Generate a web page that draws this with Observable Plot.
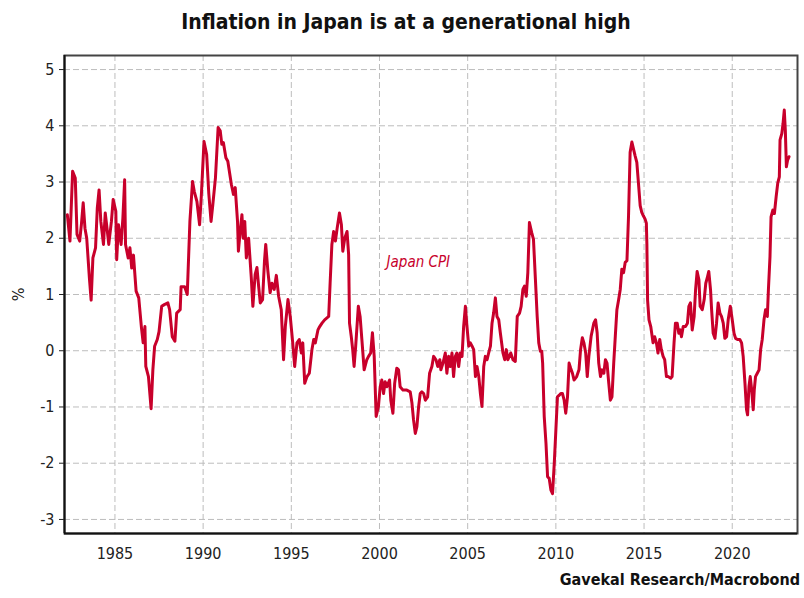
<!DOCTYPE html>
<html><head><meta charset="utf-8">
<script src="https://cdn.jsdelivr.net/npm/d3@7"></script>
<script src="https://cdn.jsdelivr.net/npm/@observablehq/plot@0.6"></script>
<style>
body{margin:0;background:#fff;font-family:"Liberation Sans Narrow","DejaVu Sans Condensed","Roboto",sans-serif;}
#wrap{width:804px;height:598px;position:relative;overflow:hidden;}
#title{height:40px;line-height:44px;text-align:center;font-weight:bold;font-size:21px;color:#111;padding-left:8px;}
#caption{position:absolute;right:4px;top:570px;font-weight:bold;font-size:16px;color:#111;}
</style></head>
<body><div id="wrap"><div id="title">Inflation in Japan is at a generational high</div><div id="chart"></div><div id="caption">Gavekal Research/Macrobond</div></div>
<script>
const years = [1982.30,1982.45,1982.60,1982.75,1982.85,1983.00,1983.10,1983.20,1983.30,1983.40,1983.55,1983.65,1983.75,1983.90,1984.00,1984.10,1984.20,1984.35,1984.45,1984.55,1984.65,1984.80,1984.90,1985.05,1985.10,1985.20,1985.35,1985.45,1985.55,1985.60,1985.75,1985.85,1985.95,1986.05,1986.20,1986.35,1986.50,1986.60,1986.70,1986.75,1986.90,1987.05,1987.15,1987.25,1987.40,1987.50,1987.65,1987.80,1988.00,1988.10,1988.25,1988.40,1988.50,1988.70,1988.75,1988.95,1989.10,1989.25,1989.40,1989.50,1989.65,1989.80,1989.90,1990.05,1990.20,1990.32,1990.45,1990.55,1990.70,1990.85,1990.97,1991.06,1991.15,1991.29,1991.40,1991.60,1991.72,1991.82,1991.95,1992.00,1992.10,1992.20,1992.27,1992.36,1992.45,1992.58,1992.73,1992.82,1992.95,1993.05,1993.15,1993.24,1993.37,1993.48,1993.55,1993.67,1993.80,1993.90,1994.03,1994.15,1994.28,1994.43,1994.56,1994.66,1994.81,1994.94,1995.08,1995.19,1995.32,1995.45,1995.57,1995.65,1995.76,1995.89,1996.02,1996.17,1996.27,1996.36,1996.51,1996.61,1996.74,1996.89,1997.12,1997.20,1997.30,1997.40,1997.50,1997.60,1997.73,1997.84,1997.92,1998.03,1998.16,1998.25,1998.30,1998.40,1998.48,1998.56,1998.65,1998.80,1998.90,1999.00,1999.13,1999.28,1999.38,1999.50,1999.60,1999.70,1999.81,1999.94,2000.04,2000.13,2000.23,2000.32,2000.42,2000.57,2000.64,2000.76,2000.86,2000.98,2001.08,2001.17,2001.33,2001.55,2001.74,2001.84,2001.93,2002.03,2002.12,2002.22,2002.31,2002.40,2002.50,2002.60,2002.73,2002.84,2002.97,2003.07,2003.20,2003.30,2003.42,2003.48,2003.60,2003.73,2003.82,2003.92,2004.01,2004.11,2004.20,2004.30,2004.39,2004.49,2004.58,2004.68,2004.77,2004.87,2004.96,2005.06,2005.15,2005.25,2005.34,2005.44,2005.53,2005.63,2005.72,2005.81,2005.91,2006.00,2006.10,2006.19,2006.29,2006.38,2006.47,2006.57,2006.66,2006.76,2006.85,2007.00,2007.10,2007.19,2007.28,2007.44,2007.57,2007.70,2007.81,2007.94,2008.03,2008.13,2008.22,2008.32,2008.41,2008.50,2008.63,2008.73,2008.84,2008.94,2009.03,2009.12,2009.20,2009.25,2009.34,2009.44,2009.53,2009.62,2009.72,2009.81,2009.91,2010.00,2010.09,2010.19,2010.28,2010.37,2010.47,2010.56,2010.66,2010.75,2010.84,2010.94,2011.03,2011.18,2011.31,2011.40,2011.50,2011.59,2011.69,2011.78,2011.87,2012.00,2012.15,2012.25,2012.34,2012.43,2012.53,2012.62,2012.72,2012.81,2012.90,2013.00,2013.09,2013.18,2013.28,2013.37,2013.46,2013.56,2013.65,2013.74,2013.84,2013.93,2014.03,2014.12,2014.21,2014.31,2014.40,2014.49,2014.59,2014.68,2014.78,2014.87,2014.96,2015.06,2015.13,2015.16,2015.20,2015.28,2015.38,2015.51,2015.60,2015.70,2015.79,2015.89,2015.98,2016.08,2016.17,2016.27,2016.36,2016.51,2016.59,2016.70,2016.78,2016.88,2016.97,2017.05,2017.12,2017.22,2017.35,2017.46,2017.54,2017.63,2017.73,2017.84,2017.92,2018.01,2018.11,2018.18,2018.30,2018.41,2018.50,2018.60,2018.67,2018.77,2018.83,2018.92,2019.02,2019.11,2019.20,2019.30,2019.39,2019.49,2019.58,2019.68,2019.77,2019.89,2020.00,2020.10,2020.19,2020.30,2020.43,2020.53,2020.62,2020.72,2020.81,2020.87,2020.95,2021.02,2021.10,2021.19,2021.25,2021.32,2021.42,2021.52,2021.61,2021.70,2021.80,2021.89,2021.99,2022.05,2022.14,2022.20,2022.30,2022.39,2022.49,2022.58,2022.67,2022.71,2022.81,2022.88,2022.95,2023.01,2023.07,2023.14,2023.22];
const cpi = [2.42,1.95,3.19,3.07,2.07,1.95,2.25,2.63,2.18,2.00,1.30,0.90,1.65,1.83,2.54,2.86,2.30,1.89,2.45,2.18,1.89,2.30,2.69,2.48,1.62,2.24,1.89,2.36,3.04,1.89,1.65,1.83,1.47,1.70,1.06,0.94,0.42,0.14,0.43,-0.28,-0.46,-1.03,-0.34,0.08,0.20,0.34,0.79,0.82,0.85,0.73,0.25,0.17,0.67,0.73,1.14,1.14,1.00,2.30,3.01,2.83,2.65,2.24,2.77,3.72,3.49,2.80,2.30,2.60,3.08,3.97,3.91,3.67,3.70,3.43,3.37,2.96,2.78,2.90,2.30,1.77,2.12,2.42,2.00,2.30,1.65,2.00,1.30,0.79,1.36,1.48,1.14,0.85,0.91,1.60,1.89,1.42,1.03,1.20,1.09,1.34,0.97,0.73,-0.16,0.43,0.91,0.61,0.14,-0.28,0.14,0.20,-0.04,0.14,-0.58,-0.46,-0.40,0.02,0.20,0.14,0.37,0.43,0.49,0.55,0.61,1.20,1.89,2.12,1.95,2.18,2.45,2.24,1.77,2.00,2.12,1.71,0.49,0.25,0.02,-0.28,0.08,0.79,0.61,0.20,-0.34,-0.16,-0.10,-0.04,0.32,-0.10,-1.17,-0.99,-0.64,-0.52,-0.76,-0.55,-0.64,-0.52,-0.88,-1.11,-0.58,-0.31,-0.34,-0.64,-0.70,-0.70,-0.73,-0.93,-1.23,-1.47,-1.35,-0.99,-0.76,-0.73,-0.76,-0.88,-0.82,-0.40,-0.28,-0.10,-0.16,-0.28,-0.16,-0.34,-0.22,-0.04,-0.40,-0.10,-0.28,-0.04,-0.46,-0.10,-0.04,-0.28,-0.04,-0.10,0.43,0.79,0.43,0.08,0.14,0.08,0.02,-0.46,-0.28,-0.46,-0.76,-0.99,-0.28,-0.10,-0.16,-0.04,0.08,0.49,0.67,0.94,0.61,0.55,0.32,-0.04,-0.16,0.02,-0.16,-0.04,-0.16,-0.19,0.61,0.67,0.79,1.09,1.15,0.97,1.39,2.28,2.10,1.98,1.27,0.61,0.14,-0.01,-0.01,-0.22,-1.17,-1.65,-2.24,-2.27,-2.48,-2.54,-2.00,-1.41,-0.82,-0.79,-0.76,-0.76,-0.88,-1.11,-0.82,-0.22,-0.31,-0.40,-0.52,-0.46,-0.34,0.02,0.23,0.14,-0.04,-0.46,-0.10,0.26,0.49,0.55,0.32,-0.22,-0.46,-0.34,-0.40,-0.16,-0.22,-0.58,-0.88,-0.82,-0.22,0.26,0.73,0.91,1.09,1.45,1.39,1.57,1.60,2.40,3.53,3.71,3.59,3.47,3.35,2.99,2.58,2.46,2.40,2.34,2.27,1.90,0.90,0.55,0.43,0.14,0.25,0.14,-0.04,0.20,0.02,-0.10,-0.16,-0.46,-0.46,-0.49,-0.46,0.14,0.49,0.49,0.31,0.37,0.25,0.43,0.43,0.49,0.79,0.85,0.37,0.61,1.08,1.41,1.26,0.79,0.73,0.91,1.20,1.32,1.41,1.08,0.73,0.31,0.22,0.49,0.85,0.67,0.61,0.49,0.22,0.25,0.55,0.79,0.55,0.31,0.22,0.20,0.20,0.14,-0.10,-0.57,-1.05,-1.14,-0.63,-0.46,-0.69,-1.05,-0.69,-0.46,-0.40,-0.34,0.02,0.20,0.55,0.73,0.61,1.08,1.67,2.38,2.50,2.44,2.74,2.98,3.09,3.75,3.86,4.04,4.28,3.92,3.27,3.39,3.45];
const xTicks = [1985,1990,1995,2000,2005,2010,2015,2020];
const yTicks = [-3,-2,-1,0,1,2,3,4,5];
const seriesName = "Japan CPI";
const seriesLabelAt = [{year: 2002.2, value: 1.58, label: seriesName}];

const data = years.map((t, i) => ({year: t, value: cpi[i]}));
const red = "#c8002b";
const font = '"Liberation Sans Narrow","DejaVu Sans Condensed","Roboto",sans-serif';

const chart = Plot.plot({
  width: 804,
  height: 530,
  marginTop: 15,
  marginLeft: 64,
  marginRight: 7,
  marginBottom: 37,
  style: {fontFamily: font, fontSize: "16px", color: "#222", background: "white"},
  x: {domain: [1982.14, 2023.7]},
  y: {domain: [-3.25, 5.25]},
  marks: [
    Plot.gridX(xTicks, {stroke: "#bdbdbd", strokeOpacity: 1, strokeDasharray: "6,3"}),
    Plot.gridY(yTicks, {stroke: "#bdbdbd", strokeOpacity: 1, strokeDasharray: "6,3"}),
    Plot.axisX(xTicks, {tickSize: 0, tickPadding: 14, tickFormat: d => String(d), label: null}),
    Plot.axisY(yTicks, {tickSize: 5, tickPadding: 5, tickFormat: d => String(d), label: "%", labelAnchor: "center", labelArrow: "none", labelOffset: 52}),
    Plot.frame({stroke: "#444", strokeWidth: 2}),
    Plot.ruleX([1982.14], {stroke: "#111", strokeWidth: 2}),
    Plot.ruleY([-3.25], {stroke: "#111", strokeWidth: 2}),
    Plot.lineY(data, {x: "year", y: "value", stroke: red, strokeWidth: 3}),
    Plot.text(seriesLabelAt, {x: "year", y: "value", text: "label", fill: red, fontStyle: "italic", fontSize: 15})
  ]
});
document.getElementById("chart").append(chart);
</script>
</body></html>
